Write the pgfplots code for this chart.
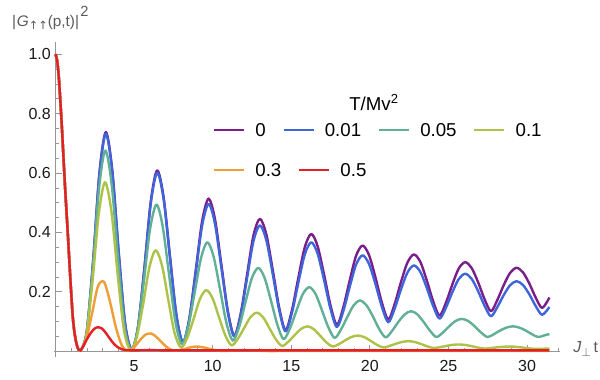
\documentclass[border=0pt]{standalone}
\usepackage{pgfplots}
\pgfplotsset{compat=1.18}
\usepackage{fontspec}
\setmainfont{Liberation Sans}
\newfontfamily\dejavu{DejaVu Sans}
\definecolor{c0}{RGB}{122,31,138}
\definecolor{c1}{RGB}{62,101,218}
\definecolor{c2}{RGB}{96,175,150}
\definecolor{c3}{RGB}{172,194,72}
\definecolor{c4}{RGB}{239,158,54}
\definecolor{c5}{RGB}{226,33,38}
\definecolor{axgray}{RGB}{150,150,150}
\definecolor{labgray}{RGB}{90,90,90}

\pgfplotstableread{
t v
0 1.0
0.1 0.98
0.2 0.93
0.3 0.85
0.4 0.76
0.5 0.66
0.6 0.56
0.7 0.47
0.8 0.38
0.9 0.285
1.0 0.195
1.1 0.115
1.2 0.066
1.3 0.034
1.4 0.013
1.5 0.003
}\initdata

\pgfplotstableread{
t v
1.57 0
1.98 0.0621
2.39 0.3023
2.79 0.5978
3.20 0.738
3.61 0.6098
4.02 0.3337
4.43 0.0925
4.84 0.006
5.24 0.0791
5.65 0.2781
6.06 0.5042
6.47 0.609
6.88 0.518
7.29 0.3156
7.69 0.122
8.10 0.03
8.51 0.1095
8.92 0.2716
9.33 0.4389
9.74 0.514
10.14 0.4462
10.55 0.2926
10.96 0.1367
11.37 0.052
11.78 0.1264
12.19 0.2596
12.59 0.3891
13.00 0.446
13.41 0.394
13.82 0.2738
14.23 0.1466
14.63 0.071
15.04 0.138
15.45 0.2482
15.86 0.3508
16.27 0.395
16.67 0.3546
17.08 0.2597
17.49 0.1553
17.90 0.089
18.31 0.1481
18.72 0.2394
19.12 0.3214
19.53 0.356
19.94 0.3246
20.35 0.2496
20.76 0.1643
21.17 0.107
21.57 0.1582
21.98 0.2335
22.39 0.2988
22.80 0.326
23.21 0.3009
23.61 0.2402
24.02 0.1693
24.43 0.12
24.84 0.1639
25.25 0.2258
25.65 0.2784
26.06 0.300
26.47 0.2806
26.88 0.2331
27.29 0.1761
27.70 0.135
28.10 0.1719
28.51 0.2223
28.92 0.264
29.33 0.281
29.74 0.2655
30.15 0.2273
30.55 0.1806
30.96 0.146
31.42 0.181
}\dataA

\pgfplotstableread{
t v
1.57 0
1.98 0.0616
2.39 0.2998
2.79 0.5929
3.20 0.732
3.61 0.6050
4.02 0.3312
4.43 0.0919
4.84 0.006
5.24 0.0783
5.65 0.2746
6.06 0.4976
6.47 0.601
6.88 0.5112
7.29 0.3119
7.69 0.1210
8.10 0.030
8.51 0.1071
8.92 0.2633
9.33 0.4241
9.74 0.496
10.14 0.4306
10.55 0.2822
10.96 0.1318
11.37 0.050
11.78 0.1208
12.19 0.2473
12.59 0.3702
13.00 0.424
13.41 0.3745
13.82 0.2600
14.23 0.1388
14.63 0.067
15.04 0.1292
15.45 0.2313
15.86 0.3262
16.27 0.367
16.67 0.3294
17.08 0.2409
17.49 0.1436
17.90 0.082
18.31 0.1356
18.72 0.2179
19.12 0.2917
19.53 0.323
19.94 0.2946
20.35 0.2270
20.76 0.1498
21.17 0.098
21.57 0.1430
21.98 0.2086
22.39 0.2653
22.80 0.289
23.21 0.2673
23.61 0.2148
24.02 0.1532
24.43 0.110
24.84 0.1472
25.25 0.1993
25.65 0.2430
26.06 0.261
26.47 0.2442
26.88 0.2030
27.29 0.1537
27.70 0.118
28.10 0.1481
28.51 0.1889
28.92 0.2224
29.33 0.236
29.74 0.2231
30.15 0.1911
30.55 0.1520
30.96 0.123
31.42 0.149
}\dataB

\pgfplotstableread{
t v
1.56 0
1.96 0.0568
2.37 0.2769
2.77 0.5476
3.17 0.676
3.58 0.5581
3.99 0.3044
4.39 0.0833
4.80 0.005
5.20 0.0645
5.60 0.2259
6.01 0.4092
6.42 0.494
6.82 0.4200
7.23 0.2556
7.63 0.0985
8.04 0.024
8.44 0.0816
8.85 0.1967
9.26 0.3144
9.66 0.367
10.06 0.3183
10.47 0.2079
10.87 0.0963
11.28 0.036
11.69 0.0832
12.09 0.1661
12.49 0.2461
12.90 0.281
13.30 0.2473
13.71 0.1699
14.12 0.0885
14.51 0.041
14.92 0.0776
15.33 0.1372
15.73 0.1924
16.14 0.216
16.54 0.1932
16.94 0.1397
17.35 0.0815
17.76 0.045
18.16 0.0732
18.57 0.1163
18.97 0.1548
19.37 0.171
19.78 0.1551
20.19 0.1174
20.59 0.0750
21.00 0.047
21.40 0.0679
21.80 0.0981
22.21 0.1241
22.62 0.135
23.02 0.1243
23.42 0.0986
23.83 0.0687
24.23 0.048
24.64 0.0632
25.05 0.0842
25.44 0.1018
25.85 0.109
26.26 0.1018
26.66 0.0842
27.07 0.0632
27.48 0.048
27.88 0.0574
28.28 0.0699
28.69 0.0799
29.10 0.084
29.50 0.0799
29.91 0.0699
30.31 0.0574
30.71 0.048
31.12 0.054
31.42 0.058
}\dataC

\pgfplotstableread{
t v
1.55 0
1.95 0.0478
2.35 0.2331
2.75 0.4609
3.15 0.569
3.56 0.4695
3.96 0.2555
4.36 0.0695
4.77 0.004
5.16 0.0458
5.57 0.1567
5.97 0.2821
6.37 0.340
6.78 0.2875
7.18 0.1716
7.57 0.0625
7.98 0.013
8.38 0.0452
8.79 0.1099
9.19 0.1763
9.59 0.206
9.99 0.1787
10.39 0.1166
10.80 0.0538
11.20 0.020
11.60 0.0420
12.01 0.0794
12.40 0.1147
12.81 0.130
13.21 0.1142
13.61 0.0779
14.02 0.0400
14.41 0.018
14.81 0.0321
15.22 0.0547
15.62 0.0752
16.03 0.084
16.42 0.0748
16.82 0.0534
17.23 0.0302
17.63 0.016
18.04 0.0245
18.44 0.0372
18.83 0.0483
19.24 0.053
19.64 0.0478
20.04 0.0355
20.45 0.0218
20.85 0.013
21.25 0.0181
21.65 0.0253
22.05 0.0315
22.46 0.034
22.86 0.0312
23.26 0.0243
23.66 0.0164
24.06 0.011
24.47 0.0140
24.87 0.0182
25.27 0.0216
25.67 0.023
26.07 0.0213
26.48 0.0172
26.88 0.0124
27.28 0.009
27.68 0.0108
28.08 0.0133
28.49 0.0152
28.89 0.016
29.29 0.0151
29.70 0.0128
30.09 0.0100
30.50 0.008
30.90 0.0085
31.42 0.009
}\dataD

\pgfplotstableread{
t v
1.57 0
1.95 0.04
2.33 0.128
2.70 0.219
3.09 0.233
3.47 0.166
3.85 0.0785
4.23 0.0188
4.61 0.001
4.98 0.0120
5.36 0.0364
5.75 0.0569
6.13 0.0593
6.51 0.0435
6.89 0.0229
7.26 0.0077
7.64 0.0016
8.02 0.0051
8.41 0.0109
8.79 0.0153
9.17 0.0154
9.54 0.0116
9.92 0.0066
10.30 0.0026
10.68 0.0009
11.07 0.0018
11.45 0.0032
11.82 0.0042
12.20 0.0041
12.58 0.0032
12.96 0.0019
13.34 0.0009
14 0.0008
16 0.0012
20 0.001
25 0.001
31.42 0.001
}\dataE

\pgfplotstableread{
t v
1.55 0
1.75 0.015
1.95 0.036
2.17 0.056
2.40 0.072
2.60 0.080
2.75 0.081
2.95 0.077
3.20 0.062
3.45 0.043
3.70 0.026
3.95 0.014
4.20 0.007
4.50 0.004
5.0 0.003
6.0 0.004
7.0 0.003
9 0.003
12 0.003
16 0.003
20 0.003
25 0.003
31.42 0.003
}\dataF

\begin{document}
\begin{tikzpicture}
\pgfplotsset{
  base/.style={
    scale only axis, width=379.6pt, height=236.1pt,
    xmin=-0.1, xmax=32.1, ymin=-0.02, ymax=1.04,
    clip=false,
    every axis plot/.append style={line width=1.8pt, smooth, line join=round},
    legend image code/.code={\draw[##1, line width=1.8pt] (0pt,0pt) -- (22.5pt,0pt);},
  },
  leg/.style={
    legend style={draw=none, fill=none, inner sep=0pt, outer sep=0pt,
      at={(axis cs:#1)}, anchor=west,
      font=\fontsize{14}{16}\selectfont,
      nodes={inner sep=0pt, text depth=0pt},
      cells={anchor=west},
      /tikz/every odd column/.append style={column sep=7.5pt},
      /tikz/every even column/.append style={column sep=12.5pt}},
  },
}
\begin{axis}[base,
  axis lines=middle,
  axis line style={axgray, line width=0.7pt, -},
  tick style={axgray, line width=0.6pt},
  tick align=inside,
  major tick length=4.5pt, minor tick length=2.6pt,
  xtick={5,10,15,20,25,30}, xticklabels={5,10,15,20,25,30},
  ytick={0.2,0.4,0.6,0.8,1.0}, yticklabels={0.2,0.4,0.6,0.8,1.0},
  minor xtick={1,2,3,4,6,7,8,9,11,12,13,14,16,17,18,19,21,22,23,24,26,27,28,29,31,32},
  minor ytick={0.05,0.1,0.15,0.25,0.3,0.35,0.45,0.5,0.55,0.65,0.7,0.75,0.85,0.9,0.95},
  xticklabel style={font=\fontsize{12}{14}\selectfont, text=black!90, yshift=-3pt},
  yticklabel style={font=\fontsize{12}{14}\selectfont, text=black!90},
  leg={10.02,0.745}, legend columns=4,
]
\addplot[c0] table[x=t,y=v] {\initdata};
\addplot[c0, forget plot] table[x=t,y=v] {\dataA};
\addlegendentry{0}
\addplot[c1] table[x=t,y=v] {\initdata};
\addplot[c1, forget plot] table[x=t,y=v] {\dataB};
\addlegendentry{0.01}
\addplot[c2] table[x=t,y=v] {\initdata};
\addplot[c2, forget plot] table[x=t,y=v] {\dataC};
\addlegendentry{0.05}
\addplot[c3] table[x=t,y=v] {\initdata};
\addplot[c3, forget plot] table[x=t,y=v] {\dataD};
\addlegendentry{0.1}
\node[anchor=west, text=labgray, font=\fontsize{11.5}{13}\selectfont, inner sep=0pt] at (axis cs:-2.77,1.122)
  {|\kern0.5pt\textit{G}\raisebox{-2.5pt}{\fontsize{8.5}{9}\selectfont\dejavu ↑↑}(p,t)|\kern1pt\raisebox{7pt}{\fontsize{11}{11}\selectfont 2}};
\node[anchor=west, text=labgray, font=\fontsize{12}{14}\selectfont, inner sep=0pt] at (axis cs:32.92,0.008)
  {\textit{J}\raisebox{-3pt}{\fontsize{9}{10}\selectfont$\perp$}\kern2pt t};
\node[font=\fontsize{14}{16}\selectfont, inner sep=0pt] at (axis cs:20.26,0.839) {T/Mv\textsuperscript{2}};
\coordinate (bbA) at (axis cs:-3.531,-0.0966);
\coordinate (bbB) at (axis cs:34.638,1.1828);
\end{axis}
\begin{axis}[base, hide axis, leg={10.02,0.610}, legend columns=2]
\addplot[c4] table[x=t,y=v] {\initdata};
\addplot[c4, forget plot] table[x=t,y=v] {\dataE};
\addlegendentry{0.3}
\addplot[c5] table[x=t,y=v] {\initdata};
\addplot[c5, forget plot] table[x=t,y=v] {\dataF};
\addlegendentry{0.5}
\end{axis}
\pgfresetboundingbox
\useasboundingbox (bbA) rectangle (bbB);
\end{tikzpicture}
\end{document}
